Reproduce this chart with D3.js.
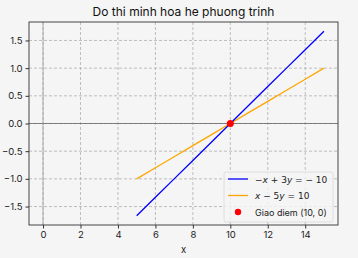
<!DOCTYPE html>
<html><head><meta charset="utf-8">
<script src="https://cdn.jsdelivr.net/npm/d3@7"></script>
<style>
body{margin:0;background:#f5f5f5;}
text{font-family:Inter,"DejaVu Sans",sans-serif;}
</style></head><body>
<svg id="c" width="358" height="258"></svg>
<script>
const xTicks=[0,2,4,6,8,10,12,14];
const yTicks=[-1.5,-1.0,-0.5,0.0,0.5,1.0,1.5];
const xs=[5,6,7,8,9,10,11,12,13,14,15];
const line1=[-1.667,-1.333,-1.0,-0.667,-0.333,0,0.333,0.667,1.0,1.333,1.667];
const line2=[-1.0,-0.8,-0.6,-0.4,-0.2,0,0.2,0.4,0.6,0.8,1.0];
const point=[10,0];
const title="Do thi minh hoa he phuong trinh";

const svg=d3.select("#c");
const L=29,R=338,T=22,B=225;
const x=d3.scaleLinear().domain([-0.75,15.75]).range([L,R]);
const y=d3.scaleLinear().domain([-1.8335,1.8335]).range([B,T]);
svg.append("rect").attr("width",358).attr("height",258).attr("fill","#f5f5f5");
const g=svg.append("g");
xTicks.forEach(t=>g.append("line").attr("x1",x(t)).attr("x2",x(t)).attr("y1",T).attr("y2",B).attr("stroke","#b0b0b0").attr("stroke-width",0.8).attr("stroke-dasharray","3,2"));
yTicks.forEach(t=>g.append("line").attr("y1",y(t)).attr("y2",y(t)).attr("x1",L).attr("x2",R).attr("stroke","#b0b0b0").attr("stroke-width",0.8).attr("stroke-dasharray","3,2"));
svg.append("line").attr("x1",L).attr("x2",R).attr("y1",y(0)).attr("y2",y(0)).attr("stroke","#666").attr("stroke-width",0.8);
svg.append("line").attr("x1",x(0)).attr("x2",x(0)).attr("y1",T).attr("y2",B).attr("stroke","#999").attr("stroke-width",0.8);
const ln=d3.line().x((d,i)=>x(xs[i])).y(d=>y(d));
svg.append("path").attr("d",ln(line2)).attr("fill","none").attr("stroke","#ffa500").attr("stroke-width",1.3);
svg.append("path").attr("d",ln(line1)).attr("fill","none").attr("stroke","#0000ff").attr("stroke-width",1.3);
svg.append("circle").attr("cx",x(point[0])).attr("cy",y(point[1])).attr("r",3.5).attr("fill","#ff0000");
svg.append("rect").attr("x",L).attr("y",T).attr("width",R-L).attr("height",B-T).attr("fill","none").attr("stroke","#333").attr("stroke-width",0.9);
const xa=svg.append("g").attr("transform",`translate(0,${B})`).call(d3.axisBottom(x).tickValues(xTicks).tickSize(3.5).tickPadding(3).tickFormat(d3.format("d")));
const ya=svg.append("g").attr("transform",`translate(${L},0)`).call(d3.axisLeft(y).tickValues(yTicks).tickSize(3.5).tickPadding(3).tickFormat(d=>d3.format(".1f")(d).replace("-","\u2212")));
[xa,ya].forEach(a=>{a.select(".domain").remove();a.selectAll("line").attr("stroke","#333");a.selectAll("text").attr("font-size",9.5).attr("fill","#222").attr("font-family","Inter,sans-serif");});
svg.append("text").attr("x",(L+R)/2).attr("y",16).attr("text-anchor","middle").attr("font-size",12).attr("fill","#111").text(title);
svg.append("text").attr("x",(L+R)/2).attr("y",253).attr("text-anchor","middle").attr("font-size",9.5).attr("fill","#222").text("x");
const lg=svg.append("g");
lg.append("rect").attr("x",224).attr("y",172).attr("width",109).attr("height",50).attr("rx",2).attr("fill","#f5f5f5").attr("fill-opacity",0.8).attr("stroke","#d8d8d8").attr("stroke-width",0.8);
const items=[{c:"#0000ff",t:[["−",0],["x",1],[" + 3",0],["y",1],[" = − 10",0]]},{c:"#ffa500",t:[["x",1],[" − 5",0],["y",1],[" = 10",0]]}];
items.forEach((it,i)=>{
  const yy=179+i*16.5;
  lg.append("line").attr("x1",228).attr("x2",248).attr("y1",yy).attr("y2",yy).attr("stroke",it.c).attr("stroke-width",1.3);
  const tx=lg.append("text").attr("x",255).attr("y",yy+3.5).attr("font-size",9).attr("fill","#222");
  it.t.forEach(s=>tx.append("tspan").attr("font-style",s[1]?"italic":"normal").attr("font-family","'DejaVu Sans',sans-serif").text(s[0]));
});
lg.append("circle").attr("cx",238).attr("cy",212).attr("r",3.2).attr("fill","#ff0000");
lg.append("text").attr("x",255).attr("y",215.5).attr("font-size",9).attr("fill","#222").text("Giao diem (10, 0)");
</script></body></html>
